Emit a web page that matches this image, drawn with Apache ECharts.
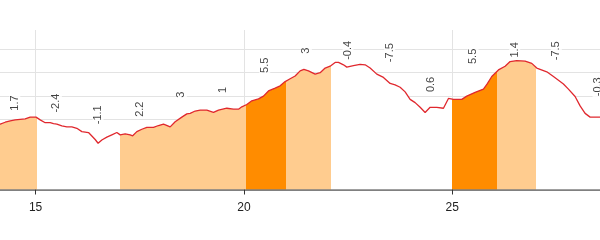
<!DOCTYPE html>
<html><head><meta charset="utf-8">
<script src="https://cdn.jsdelivr.net/npm/echarts@6/dist/echarts.min.js"></script>
<style>html,body{margin:0;padding:0;background:#fff}#c{width:600px;height:240px}</style>
</head><body><div id="c"></div><script>
// Elevation profile (km, m)
const distanceKm = [14.05,14.15,14.27,14.39,14.51,14.63,14.75,14.87,14.91,15.01,15.11,15.23,15.35,15.43,15.51,15.63,15.75,15.87,15.99,16.11,16.27,16.31,16.43,16.50,16.59,16.71,16.83,16.95,17.03,17.15,17.27,17.33,17.43,17.55,17.67,17.83,17.95,18.07,18.13,18.23,18.35,18.51,18.63,18.71,18.83,18.95,19.11,19.27,19.39,19.59,19.75,19.87,19.95,20.07,20.19,20.35,20.47,20.59,20.75,20.87,20.99,21.11,21.23,21.35,21.44,21.55,21.71,21.83,21.95,22.07,22.19,22.27,22.39,22.47,22.63,22.79,22.91,23.03,23.19,23.35,23.51,23.63,23.75,23.87,23.99,24.11,24.23,24.35,24.47,24.63,24.79,24.91,25.03,25.23,25.35,25.55,25.75,25.84,25.95,26.11,26.27,26.39,26.55,26.75,26.91,27.03,27.27,27.43,27.55,27.67,27.79,27.95,28.07,28.19,28.31,28.55,28.70];
const elevationM = [138,140,144,147,149,150,151,155,157,155,149,143,143,141,140,136,134,134,131,124,122,120,107,99,106,112,117,122,117,119,117,115,124,129,133,133,137,140,138,134,145,155,162,163,168,170,170,165,170,174,172,172,177,182,190,194,200,211,217,222,231,237,243,254,257,254,247,250,260,264,272,272,267,262,265,268,267,260,247,240,227,224,219,209,193,186,176,165,176,176,174,195,193,193,200,208,215,226,242,256,264,274,276,275,270,260,252,242,234,226,215,199,179,163,155,155,154];

// Colour bands along the route
const segmentBreaksKm = [15.03,17.03,20.04,21.01,22.08,25.0,26.07,27.0];
const segmentClass = ['light','white','light','dark','light','white','dark','light','white'];

// Per-km gradient labels (%)
const gradeKm = [14.5,15.5,16.5,17.5,18.5,19.5,20.5,21.5,22.5,23.5,24.5,25.5,26.5,27.5,28.5];
const gradePct = [1.7,-2.4,-1.1,2.2,3,1,5.5,3,-0.4,-7.5,0.6,5.5,1.4,-7.5,-0.3];
const gradeLabelElev = [185,185,160,172,203,213,266,297,298,293,225,285,299,297,220];

const classColor = {light:'#FFCC8F', dark:'#FF8C00', white:'#FFFFFF'};
const pieces = segmentClass.map((c,i)=>{
  const p = {color: classColor[c]};
  if (i>0) p.gte = segmentBreaksKm[i-1];
  if (i<segmentBreaksKm.length) p.lt = segmentBreaksKm[i];
  return p;
});
const profile = distanceKm.map((d,i)=>[d, elevationM[i]]);
const labelsData = gradeKm.map((k,i)=>({value:[k, gradeLabelElev[i]], grade: gradePct[i]}));

const chart = echarts.init(document.getElementById('c'), null, {renderer:'canvas'});
chart.setOption({
  animation:false,
  grid:{left:-172.7, right:-60.5, top:30, bottom:50.5, containLabel:false, outerBoundsMode:'none'},
  xAxis:{type:'value', min:10, max:30, interval:5,
    axisLine:{lineStyle:{color:'#808080', width:2}},
    axisTick:{show:true, length:5, lineStyle:{color:'#333'}},
    axisLabel:{color:'#222', fontSize:12, margin:12},
    splitLine:{show:true, lineStyle:{color:'#e3e3e3'}}},
  yAxis:{type:'value', min:0, max:341.5, interval:50,
    axisLine:{show:false}, axisTick:{show:false}, axisLabel:{show:false},
    splitLine:{show:true, showMaxLine:false, lineStyle:{color:'#e3e3e3'}}},
  visualMap:{type:'piecewise', show:false, dimension:0, seriesIndex:0, pieces},
  series:[
    {type:'line', data:profile, showSymbol:false, symbol:'none', z:2,
      lineStyle:{width:0, opacity:0}, areaStyle:{opacity:1}},
    {type:'line', data:profile, showSymbol:false, symbol:'none', z:3,
      itemStyle:{color:'#e0282e'}, lineStyle:{color:'#e0282e', width:1.3}},
    {type:'scatter', data:labelsData, symbolSize:0, z:5,
      label:{show:true, position:'inside', rotate:90, color:'#111', fontSize:11,
        backgroundColor:'#fff', padding:[0,1],
        formatter:p=>String(p.data.grade)}}
  ]
});
</script></body></html>
